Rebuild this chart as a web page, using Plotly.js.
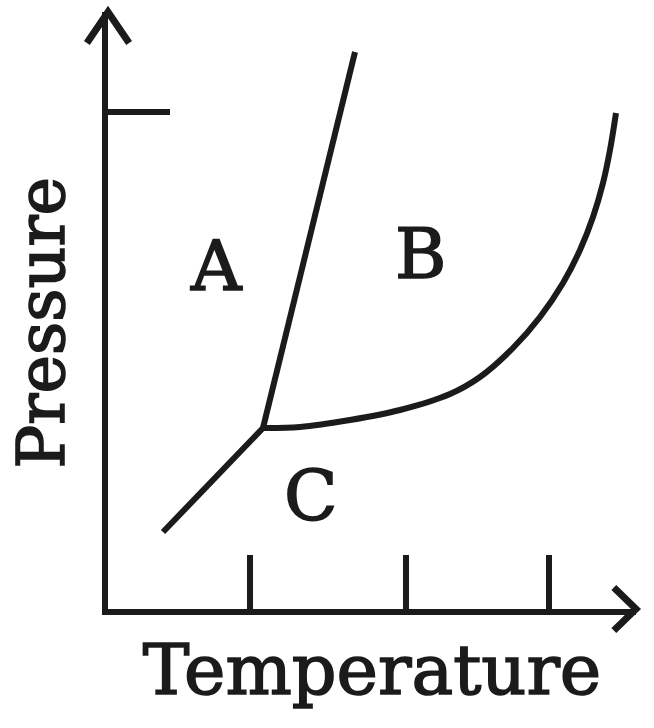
<!DOCTYPE html>
<html>
<head>
<meta charset="utf-8">
<script src="https://cdn.plot.ly/plotly-3.0.1.min.js"></script>
<style>
html,body{margin:0;padding:0;background:#fff;}
#chart{width:654px;height:728px;}
#chart text{stroke:#1c1a1b;stroke-width:1.6px;paint-order:stroke;}
</style>
</head>
<body>
<div id="chart"></div>
<script>
// Schematic phase diagram (arbitrary units; origin = axes corner)
const sublimationT = [55, 155];
const sublimationP = [77, 181];
const fusionT = [155, 247];
const fusionP = [181, 557];
const vaporT = [155, 192, 242, 292, 342, 372, 405, 432, 455, 472, 485, 495, 502, 508];
const vaporP = [181, 182, 189, 199, 215, 232, 261, 292, 326, 359, 392, 426, 459, 496];
const tempTicks = [142, 298, 441];
const pressTicks = [497];
const regionLabels = ['A', 'B', 'C'];
const regionT = [108, 312, 203];
const regionP = [343, 355, 113];

const ink = '#1c1a1b';
const lineStyle = {color: ink, width: 6};

const traces = [
  {x: sublimationT, y: sublimationP, mode: 'lines', line: lineStyle, hoverinfo: 'skip'},
  {x: fusionT, y: fusionP, mode: 'lines', line: lineStyle, hoverinfo: 'skip'},
  {x: vaporT, y: vaporP, mode: 'lines', line: Object.assign({shape: 'spline', smoothing: 1}, lineStyle), hoverinfo: 'skip'}
];

const serif = 'DejaVu Serif, Liberation Serif, serif';

const annotations = regionLabels.map((t, i) => ({
  x: regionT[i], y: regionP[i], xref: 'x', yref: 'y', text: t, showarrow: false,
  font: {family: serif, size: 70, color: ink}, xanchor: 'center', yanchor: 'middle'
}));
annotations.push({
  xref: 'paper', yref: 'paper', x: -0.127, y: 0.48, text: 'Pressure', textangle: -90,
  showarrow: false, font: {family: serif, size: 65, color: ink}, xanchor: 'center', yanchor: 'middle'
});

const layout = {
  width: 654, height: 728,
  margin: {l: 108, r: 18, t: 12, b: 119},
  paper_bgcolor: '#fff', plot_bgcolor: '#fff',
  showlegend: false,
  xaxis: {
    range: [0, 528], showgrid: false, zeroline: false,
    showline: true, linewidth: 6, linecolor: ink,
    ticks: 'inside', ticklen: 54, tickwidth: 6, tickcolor: ink,
    tickvals: tempTicks, showticklabels: false, fixedrange: true,
    title: {text: 'Temperature', font: {family: serif, size: 70, color: ink}, standoff: 33}
  },
  yaxis: {
    range: [0, 597], showgrid: false, zeroline: false,
    showline: true, linewidth: 6, linecolor: ink,
    ticks: 'inside', ticklen: 62, tickwidth: 6, tickcolor: ink,
    tickvals: pressTicks, showticklabels: false, fixedrange: true
  },
  annotations: annotations,
  shapes: [
    {type: 'path', xref: 'paper', yref: 'paper', path: 'M -0.04,0.948 L 0,1 L 0.04,0.948', line: {color: ink, width: 7}},
    {type: 'path', xref: 'paper', yref: 'paper', path: 'M 0.958,0.036 L 1,0 L 0.958,-0.036', line: {color: ink, width: 7}}
  ]
};

Plotly.newPlot('chart', traces, layout, {staticPlot: true, displayModeBar: false});
</script>
</body>
</html>
